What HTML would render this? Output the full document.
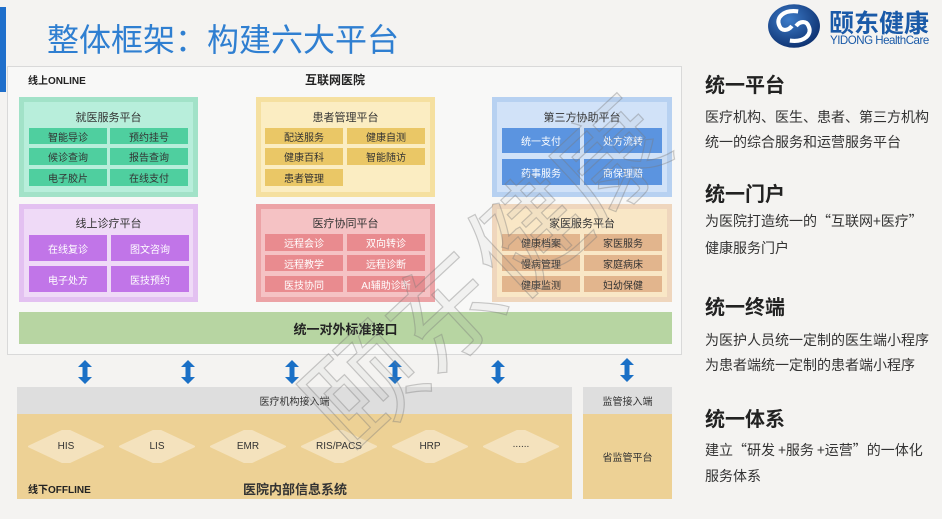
<!DOCTYPE html>
<html><head><meta charset="utf-8">
<style>
*{margin:0;padding:0;box-sizing:border-box}
body{width:942px;height:519px;background:#f4f3f1;position:relative;overflow:hidden;font-family:"Liberation Sans","Noto Sans CJK SC",sans-serif;color:#333}
.a{position:absolute}
.c{position:absolute;display:flex;align-items:center;justify-content:center;font-size:10px;white-space:nowrap}
.plat{position:absolute}
.plat .in{position:absolute;left:5px;top:5px;right:5px;bottom:5px}
.pt{position:absolute;text-align:center;font-size:11px;color:#333}
.dm{position:absolute;width:76px;height:33px}
.dm svg{position:absolute;left:0;top:0}
.dm span{position:absolute;left:0;right:0;top:0;bottom:0;display:flex;align-items:center;justify-content:center;font-size:10px;color:#333}
.rh{position:absolute;left:705px;font-size:20px;font-weight:bold;color:#222}
.rt{position:absolute;left:705px;font-size:14px;color:#333;white-space:nowrap}
.cj{font-family:"Noto Sans CJK SC",sans-serif}
</style></head><body>

<!-- left blue bar -->
<div class="a" style="left:0;top:7px;width:6px;height:85px;background:#1f6fcb"></div>
<!-- title -->
<div class="a" style="left:47px;top:15px;font-size:32px;color:#2f7fd1;white-space:nowrap;letter-spacing:0px">整体框架：构建六大平台</div>

<!-- logo -->
<svg class="a" style="left:767px;top:3px" width="54" height="46" viewBox="0 0 52 44">
<defs><radialGradient id="lg" cx="40%" cy="35%" r="70%"><stop offset="0" stop-color="#3d7cc9"/><stop offset="1" stop-color="#0c2f6e"/></radialGradient></defs>
<ellipse cx="26" cy="22" rx="25" ry="21" fill="url(#lg)"/>
<path d="M30 8 C16 6 8 14 12 22 C14 27 20 27 24 22" fill="none" stroke="#fff" stroke-width="4"/>
<path d="M22 36 C36 38 44 30 40 22 C38 17 32 17 28 22" fill="none" stroke="#fff" stroke-width="4"/>
</svg>
<div class="a" style="left:829px;top:4px;font-size:25px;font-weight:bold;color:#1a5aa8;white-space:nowrap">颐东健康</div>
<div class="a" style="left:830px;top:33px;font-size:12px;color:#1a5aa8;white-space:nowrap;transform:scaleX(0.96);transform-origin:left top;letter-spacing:-0.5px">YIDONG HealthCare</div>

<!-- main online frame -->
<div class="a" style="left:7px;top:66px;width:675px;height:289px;background:#f8f8f7;border:1px solid #d9d9d9"></div>
<div class="a" style="left:28px;top:72px;font-size:10px;font-weight:bold;color:#222">线上ONLINE</div>
<div class="a" style="left:305px;top:71px;font-size:12px;font-weight:bold;color:#222">互联网医院</div>

<!-- 就医服务平台 -->
<div class="plat" style="left:19px;top:97px;width:179px;height:100px;background:#a2e2c8"><div class="in" style="background:#b8eedb"></div></div>
<div class="pt" style="left:19px;width:179px;top:109px">就医服务平台</div>
<div class="c" style="left:29px;top:128px;width:78px;height:16px;background:#4fcf9f">智能导诊</div>
<div class="c" style="left:110px;top:128px;width:78px;height:16px;background:#4fcf9f">预约挂号</div>
<div class="c" style="left:29px;top:148px;width:78px;height:17px;background:#4fcf9f">候诊查询</div>
<div class="c" style="left:110px;top:148px;width:78px;height:17px;background:#4fcf9f">报告查询</div>
<div class="c" style="left:29px;top:169px;width:78px;height:17px;background:#4fcf9f">电子胶片</div>
<div class="c" style="left:110px;top:169px;width:78px;height:17px;background:#4fcf9f">在线支付</div>

<!-- 患者管理平台 -->
<div class="plat" style="left:256px;top:97px;width:179px;height:100px;background:#f5e0a0"><div class="in" style="background:#fbedc2"></div></div>
<div class="pt" style="left:256px;width:179px;top:109px">患者管理平台</div>
<div class="c" style="left:265px;top:128px;width:78px;height:16px;background:#eac766">配送服务</div>
<div class="c" style="left:347px;top:128px;width:78px;height:16px;background:#eac766">健康自测</div>
<div class="c" style="left:265px;top:148px;width:78px;height:17px;background:#eac766">健康百科</div>
<div class="c" style="left:347px;top:148px;width:78px;height:17px;background:#eac766">智能随访</div>
<div class="c" style="left:265px;top:169px;width:78px;height:17px;background:#eac766">患者管理</div>

<!-- 第三方协助平台 -->
<div class="plat" style="left:492px;top:97px;width:180px;height:100px;background:#b7d1f1"><div class="in" style="background:#d1e2f8"></div></div>
<div class="pt" style="left:492px;width:180px;top:109px">第三方协助平台</div>
<div class="c" style="left:502px;top:128px;width:78px;height:25px;background:#5b94e0;color:#fff">统一支付</div>
<div class="c" style="left:584px;top:128px;width:78px;height:25px;background:#5b94e0;color:#fff">处方流转</div>
<div class="c" style="left:502px;top:159px;width:78px;height:26px;background:#5b94e0;color:#fff">药事服务</div>
<div class="c" style="left:584px;top:159px;width:78px;height:26px;background:#5b94e0;color:#fff">商保理赔</div>

<!-- 线上诊疗平台 -->
<div class="plat" style="left:19px;top:204px;width:179px;height:98px;background:#e3c1f1"><div class="in" style="background:#efdaf7"></div></div>
<div class="pt" style="left:19px;width:179px;top:215px">线上诊疗平台</div>
<div class="c" style="left:29px;top:235px;width:78px;height:26px;background:#c175e8;color:#fff">在线复诊</div>
<div class="c" style="left:111px;top:235px;width:78px;height:26px;background:#c175e8;color:#fff">图文咨询</div>
<div class="c" style="left:29px;top:266px;width:78px;height:26px;background:#c175e8;color:#fff">电子处方</div>
<div class="c" style="left:111px;top:266px;width:78px;height:26px;background:#c175e8;color:#fff">医技预约</div>

<!-- 医疗协同平台 -->
<div class="plat" style="left:256px;top:204px;width:179px;height:98px;background:#eca3a6"><div class="in" style="background:#f5c2c4"></div></div>
<div class="pt" style="left:256px;width:179px;top:215px">医疗协同平台</div>
<div class="c" style="left:265px;top:234px;width:78px;height:17px;background:#e98b8f;color:#fff">远程会诊</div>
<div class="c" style="left:347px;top:234px;width:78px;height:17px;background:#e98b8f;color:#fff">双向转诊</div>
<div class="c" style="left:265px;top:255px;width:78px;height:16px;background:#e98b8f;color:#fff">远程教学</div>
<div class="c" style="left:347px;top:255px;width:78px;height:16px;background:#e98b8f;color:#fff">远程诊断</div>
<div class="c" style="left:265px;top:276px;width:78px;height:16px;background:#e98b8f;color:#fff">医技协同</div>
<div class="c" style="left:347px;top:276px;width:78px;height:16px;background:#e98b8f;color:#fff">AI辅助诊断</div>

<!-- 家医服务平台 -->
<div class="plat" style="left:492px;top:204px;width:180px;height:98px;background:#efd6bd"><div class="in" style="background:#f9e7c6"></div></div>
<div class="pt" style="left:492px;width:180px;top:215px">家医服务平台</div>
<div class="c" style="left:502px;top:234px;width:78px;height:17px;background:#e2b58d">健康档案</div>
<div class="c" style="left:584px;top:234px;width:78px;height:17px;background:#e2b58d">家医服务</div>
<div class="c" style="left:502px;top:255px;width:78px;height:16px;background:#e2b58d">慢病管理</div>
<div class="c" style="left:584px;top:255px;width:78px;height:16px;background:#e2b58d">家庭病床</div>
<div class="c" style="left:502px;top:276px;width:78px;height:16px;background:#e2b58d">健康监测</div>
<div class="c" style="left:584px;top:276px;width:78px;height:16px;background:#e2b58d">妇幼保健</div>

<!-- green bar -->
<div class="c" style="left:19px;top:312px;width:653px;height:32px;background:#b7d5a2;font-size:13px;font-weight:bold;color:#222">统一对外标准接口</div>

<!-- arrows -->
<svg class="a" style="left:0;top:0" width="942" height="519">
<defs><path id="ar" d="M0 -12 L7 -5 L2.5 -5 L2.5 5 L7 5 L0 12 L-7 5 L-2.5 5 L-2.5 -5 L-7 -5 Z" fill="#1a70c6"/></defs>
<use href="#ar" x="85" y="372"/>
<use href="#ar" x="188" y="372"/>
<use href="#ar" x="292" y="372"/>
<use href="#ar" x="395" y="372"/>
<use href="#ar" x="498" y="372"/>
<use href="#ar" x="627" y="370"/>
</svg>

<!-- bottom offline -->
<div class="c" style="left:17px;top:387px;width:555px;height:27px;background:#dedede;color:#333">医疗机构接入端</div>
<div class="a" style="left:17px;top:414px;width:555px;height:85px;background:#edd195"></div>
<div class="c" style="left:583px;top:387px;width:89px;height:27px;background:#dedede;color:#333">监管接入端</div>
<div class="c" style="left:583px;top:414px;width:89px;height:85px;background:#edd195;color:#333">省监管平台</div>

<div class="dm" style="left:28px;top:430px"><svg width="76" height="33"><polygon points="1,16.5 34,1 42,1 75,16.5 42,32 34,32" fill="#f4e2bd" stroke="#f4e2bd" stroke-width="2" stroke-linejoin="round"/></svg><span>HIS</span></div>
<div class="dm" style="left:119px;top:430px"><svg width="76" height="33"><polygon points="1,16.5 34,1 42,1 75,16.5 42,32 34,32" fill="#f4e2bd" stroke="#f4e2bd" stroke-width="2" stroke-linejoin="round"/></svg><span>LIS</span></div>
<div class="dm" style="left:210px;top:430px"><svg width="76" height="33"><polygon points="1,16.5 34,1 42,1 75,16.5 42,32 34,32" fill="#f4e2bd" stroke="#f4e2bd" stroke-width="2" stroke-linejoin="round"/></svg><span>EMR</span></div>
<div class="dm" style="left:301px;top:430px"><svg width="76" height="33"><polygon points="1,16.5 34,1 42,1 75,16.5 42,32 34,32" fill="#f4e2bd" stroke="#f4e2bd" stroke-width="2" stroke-linejoin="round"/></svg><span>RIS/PACS</span></div>
<div class="dm" style="left:392px;top:430px"><svg width="76" height="33"><polygon points="1,16.5 34,1 42,1 75,16.5 42,32 34,32" fill="#f4e2bd" stroke="#f4e2bd" stroke-width="2" stroke-linejoin="round"/></svg><span>HRP</span></div>
<div class="dm" style="left:483px;top:430px"><svg width="76" height="33"><polygon points="1,16.5 34,1 42,1 75,16.5 42,32 34,32" fill="#f4e2bd" stroke="#f4e2bd" stroke-width="2" stroke-linejoin="round"/></svg><span style="top:-4px">......</span></div>

<div class="a" style="left:28px;top:481px;font-size:10px;font-weight:bold;color:#222">线下OFFLINE</div>
<div class="a" style="left:243px;top:479px;font-size:13px;font-weight:bold;color:#333">医院内部信息系统</div>

<!-- right column -->
<div class="rh" style="top:69px">统一平台</div>
<div class="rt" style="top:107px">医疗机构、医生、患者、第三方机构</div>
<div class="rt" style="top:132px">统一的综合服务和运营服务平台</div>
<div class="rh" style="top:178px">统一门户</div>
<div class="rt cj" style="top:211px">为医院打造统一的“互联网+医疗”</div>
<div class="rt" style="top:238px">健康服务门户</div>
<div class="rh" style="top:291px">统一终端</div>
<div class="rt" style="top:330px">为医护人员统一定制的医生端小程序</div>
<div class="rt" style="top:355px">为患者端统一定制的患者端小程序</div>
<div class="rh" style="top:403px">统一体系</div>
<div class="rt cj" style="top:440px">建立“研发 +服务 +运营”的一体化</div>
<div class="rt" style="top:466px">服务体系</div>

<!-- watermark -->
<div class="a" style="left:482px;top:268px;width:0;height:0">
<div style="position:absolute;left:-260px;top:-65px;width:520px;height:130px;transform:rotate(-43deg);font-size:112px;line-height:130px;text-align:center;white-space:nowrap;color:rgba(160,160,160,0.08);-webkit-text-stroke:1.2px rgba(120,120,120,0.38);font-family:'Noto Sans CJK SC',sans-serif">颐东健康</div>
</div>

</body></html>
